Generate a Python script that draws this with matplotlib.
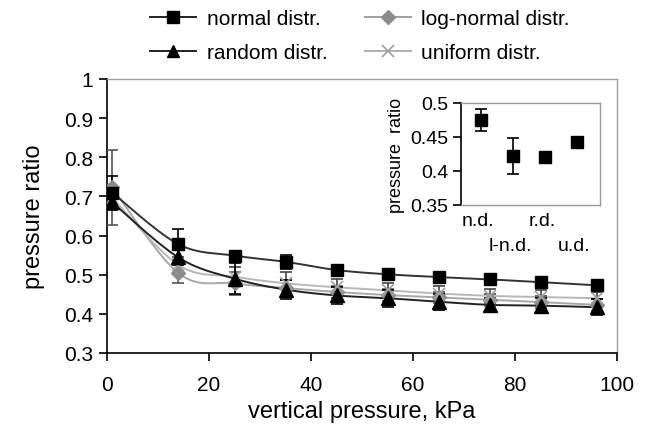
import numpy as np
import matplotlib
matplotlib.use("Agg")
import matplotlib.pyplot as plt
from matplotlib.lines import Line2D

plt.rcParams['font.family'] = ['Liberation Sans', 'DejaVu Sans']

# ---------------- data ----------------
vertical_pressure = [1, 14, 25, 35, 45, 55, 65, 75, 85, 96]

normal = [0.710, 0.578, 0.549, 0.533, 0.512, 0.501, 0.494, 0.488, 0.481, 0.473]
normal_err = [0.043, 0.040, 0.010, 0.018, 0.010, 0.008, 0.008, 0.008, 0.010, 0.012]

random_d = [0.685, 0.544, 0.490, 0.462, 0.447, 0.440, 0.431, 0.423, 0.421, 0.417]
random_err = [0.020, 0.020, 0.040, 0.025, 0.022, 0.022, 0.020, 0.018, 0.020, 0.020]

lognormal = [0.723, 0.504, 0.478, 0.466, 0.456, 0.448, 0.442, 0.436, 0.430, 0.423]
lognormal_err = [0.095, 0.025, 0.030, 0.020, 0.015, 0.015, 0.015, 0.015, 0.015, 0.015]

uniform = [0.697, 0.525, 0.495, 0.478, 0.468, 0.460, 0.452, 0.446, 0.443, 0.440]
uniform_err = [0.020, 0.020, 0.025, 0.030, 0.020, 0.018, 0.018, 0.017, 0.017, 0.015]

inset_categories = ["n.d.", "l-n.d.", "r.d.", "u.d."]
inset_values = [0.475, 0.422, 0.421, 0.443]
inset_err = [0.016, 0.026, 0.007, 0.0]

legend_labels = ["normal distr.", "random distr.", "log-normal distr.", "uniform distr."]

# ---------------- figure ----------------
W, H = 648, 439
fig = plt.figure(figsize=(W / 100, H / 100), dpi=100)
ax = fig.add_axes([107 / W, 1 - 354 / H, 510 / W, 274 / H])
ax.set_xlim(0, 100)
ax.set_ylim(0.3, 1.0)


def smooth_curve(ax, xs, ys, n=30):
    """Catmull-Rom smoothing in display space (like spreadsheet smoothed lines)."""
    pts = ax.transData.transform(np.column_stack([xs, ys]))
    P = np.vstack([pts[0], pts, pts[-1]])
    out = []
    t = np.linspace(0, 1, n)[:, None]
    for i in range(1, len(P) - 2):
        p0, p1, p2, p3 = P[i - 1], P[i], P[i + 1], P[i + 2]
        c1 = p1 + (p2 - p0) / 6.0
        c2 = p2 - (p3 - p1) / 6.0
        seg = ((1 - t) ** 3) * p1 + 3 * ((1 - t) ** 2) * t * c1 + 3 * (1 - t) * t ** 2 * c2 + t ** 3 * p2
        out.append(seg if i == 1 else seg[1:])
    out = np.vstack(out)
    return ax.transData.inverted().transform(out)


series = [
    (lognormal, lognormal_err, dict(marker='D', ms=7.5, mfc='#8c8c8c', mec='#8c8c8c', color='#a8a8a8', lw=1.4, ecolor='#555555')),
    (uniform, uniform_err, dict(marker='x', ms=8, mfc='#b0b0b0', mec='#a0a0a0', mew=1.2, color='#b8b8b8', lw=1.4, ecolor='#444444')),
    (random_d, random_err, dict(marker='^', ms=9.5, mfc='black', mec='black', color='#222222', lw=1.4, ecolor='black')),
    (normal, normal_err, dict(marker='s', ms=8.5, mfc='black', mec='black', color='#333333', lw=1.4, ecolor='black')),
]

for ys, err, st in series:
    curve = smooth_curve(ax, vertical_pressure, ys)
    ax.plot(curve[:, 0], curve[:, 1], color=st['color'], lw=st['lw'], zorder=2)
    ax.errorbar(vertical_pressure, ys, yerr=err, fmt='none', ecolor=st['ecolor'],
                elinewidth=1.2, capsize=4, capthick=1.2, zorder=3)
    ax.plot(vertical_pressure, ys, ls='none', marker=st['marker'], ms=st['ms'],
            mfc=st['mfc'], mec=st['mec'], mew=st.get('mew', 1.0), zorder=4)

ax.set_xticks([0, 20, 40, 60, 80, 100])
ax.set_yticks([0.3, 0.4, 0.5, 0.6, 0.7, 0.8, 0.9, 1.0])
ax.set_yticklabels(["0.3", "0.4", "0.5", "0.6", "0.7", "0.8", "0.9", "1"])
ax.tick_params(axis='both', direction='out', length=6, width=1.2, labelsize=15, color='black')
ax.tick_params(axis='x', pad=10)
ax.tick_params(axis='y', pad=4)
for s in ['left', 'bottom']:
    ax.spines[s].set_color('black')
    ax.spines[s].set_linewidth(1.2)
for s in ['top', 'right']:
    ax.spines[s].set_color('#a0a0a0')
    ax.spines[s].set_linewidth(1.0)
ax.set_xlabel("vertical pressure, kPa", fontsize=17, labelpad=4)
ax.set_ylabel("pressure ratio", fontsize=17, labelpad=14)

# ---------------- legend ----------------
handles = [
    Line2D([], [], color='#222222', lw=1.4, marker='s', ms=8, mfc='black', mec='black'),
    Line2D([], [], color='#222222', lw=1.4, marker='^', ms=9, mfc='black', mec='black'),
    Line2D([], [], color='#a0a0a0', lw=1.4, marker='D', ms=7, mfc='#8c8c8c', mec='#8c8c8c'),
    Line2D([], [], color='#b0b0b0', lw=1.4, marker='x', ms=8, mec='#a0a0a0', mew=1.2),
]
fig.legend(handles, legend_labels, ncol=2, loc='upper left', bbox_to_anchor=(140 / W, 1.0),
           frameon=False, fontsize=15, handlelength=2.2, handletextpad=0.5,
           columnspacing=1.8, labelspacing=0.7, borderaxespad=0.1)

# ---------------- inset ----------------
axi = fig.add_axes([461 / W, 1 - 206 / H, 139 / W, 102 / H])
pos = np.arange(1, len(inset_values) + 1)
axi.errorbar(pos, inset_values, yerr=inset_err, fmt='s', ms=9, mfc='black', mec='black',
             ecolor='black', elinewidth=1.2, capsize=4, capthick=1.2)
axi.set_xlim(0.37, 4.71)
axi.set_ylim(0.35, 0.5)
axi.set_yticks([0.35, 0.4, 0.45, 0.5])
axi.set_yticklabels(["0.35", "0.4", "0.45", "0.5"])
axi.tick_params(axis='y', direction='out', length=6, width=1.2, labelsize=14, pad=3)
axi.set_xticks([])
for i, (p, lab) in enumerate(zip(pos, inset_categories)):
    axi.annotate(lab, xy=(p, 0.35), xycoords='data', xytext=(-2, -11 if i % 2 == 0 else -29),
                 textcoords='offset points', ha='center', va='center', fontsize=14,
                 annotation_clip=False)
axi.spines['left'].set_color('black')
axi.spines['left'].set_linewidth(1.2)
for s in ['top', 'right', 'bottom']:
    axi.spines[s].set_color('#999999')
    axi.spines[s].set_linewidth(1.0)
    axi.spines[s].set_linestyle((0, (2, 1)))
axi.set_ylabel("pressure  ratio", fontsize=13, labelpad=4)

fig.savefig("out.png", dpi=100)
